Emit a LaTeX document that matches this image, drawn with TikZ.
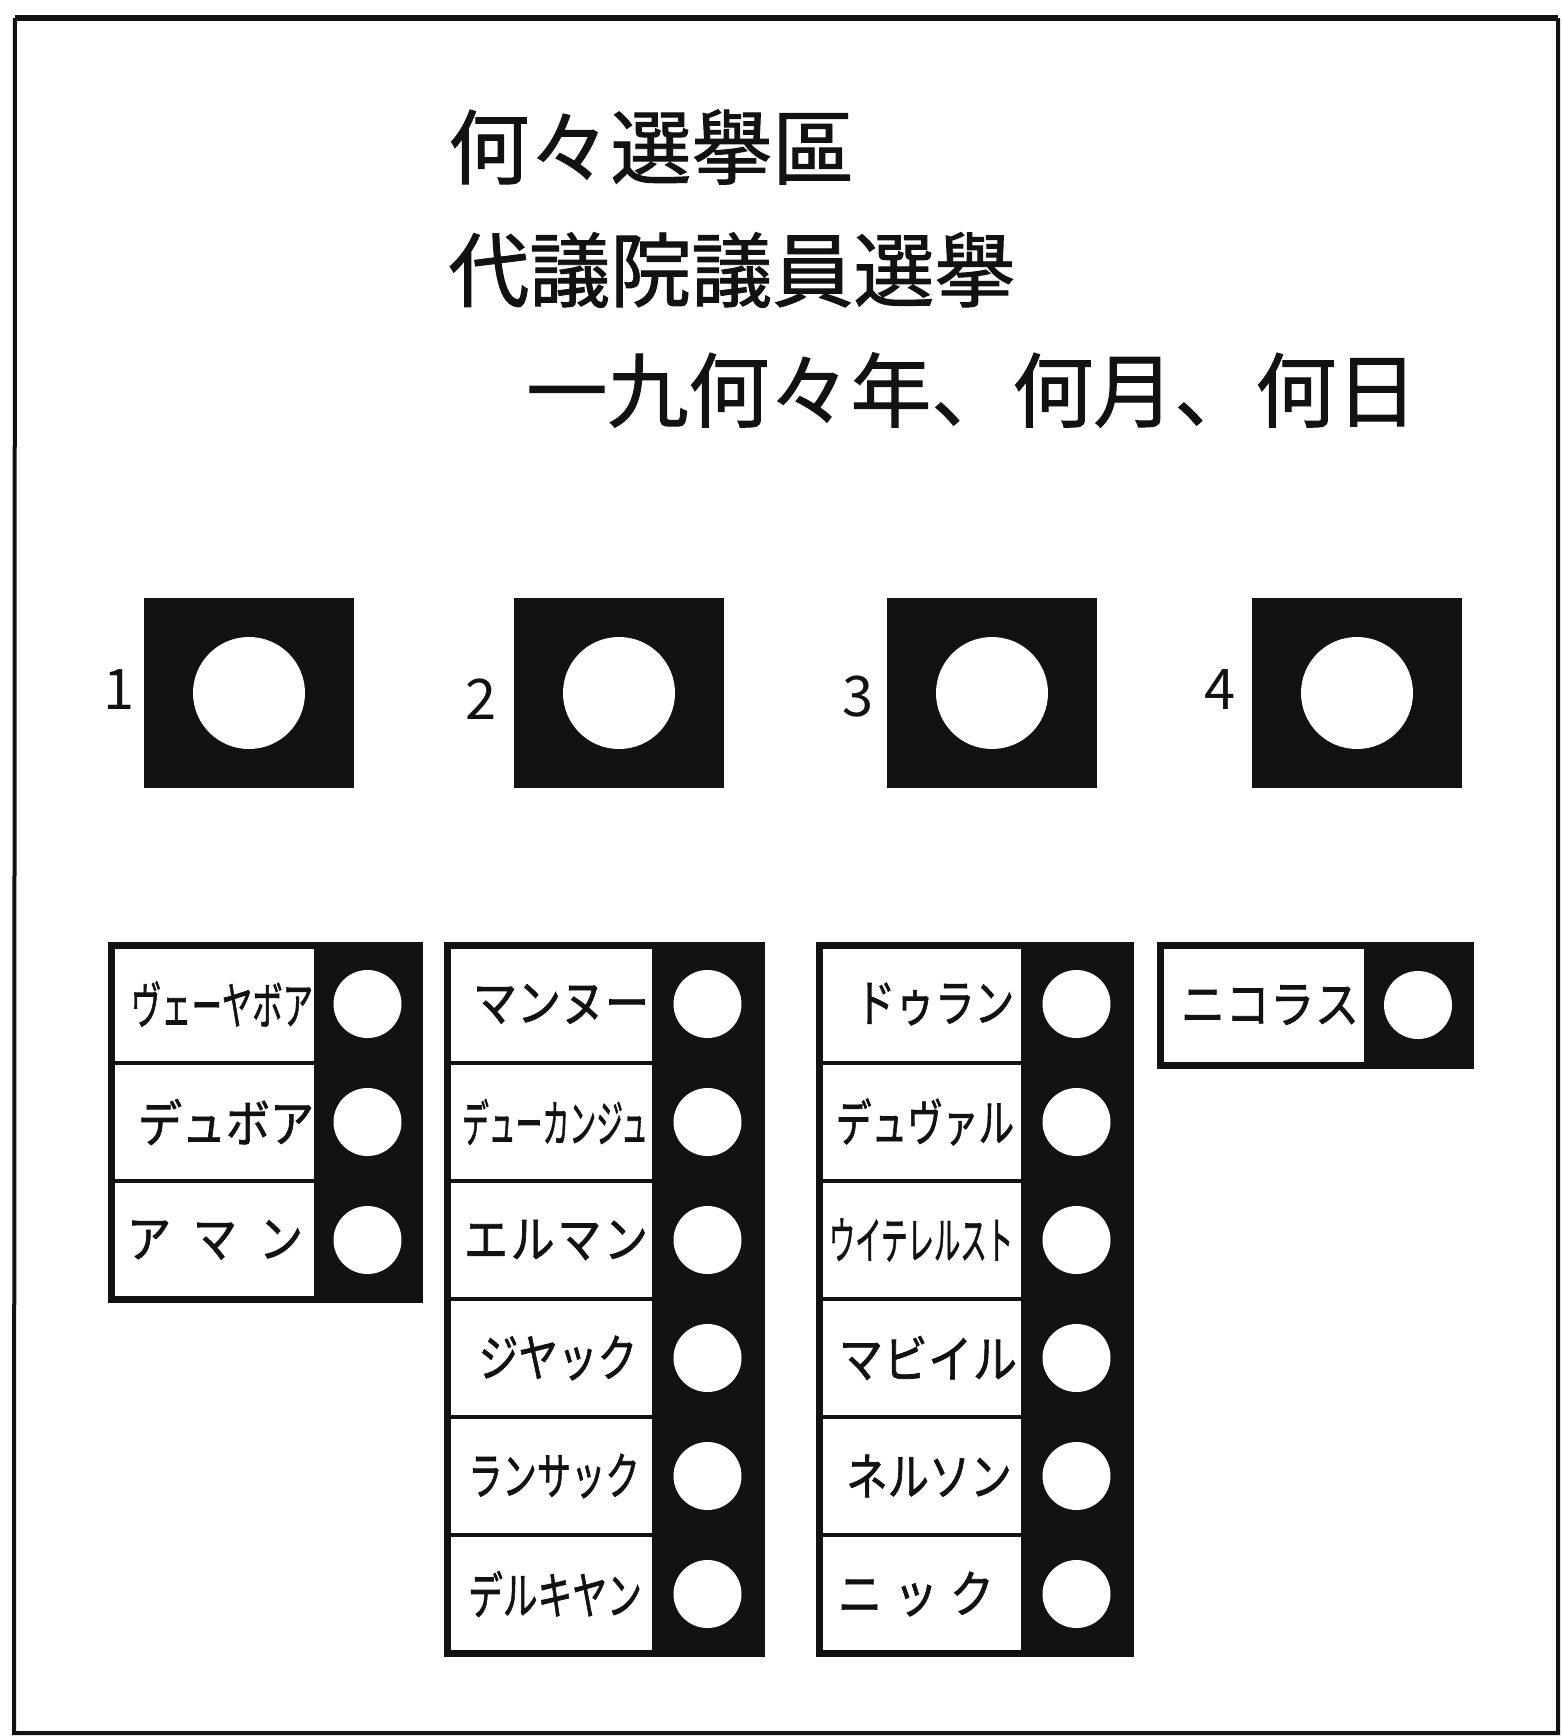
\documentclass[tikz,border=0pt]{standalone}
\usepackage{fontspec}
\usepackage{graphicx}
\newfontfamily\jp[FakeBold=1.2]{Noto Sans CJK JP}
\newfontfamily\jpn[FakeBold=1.5]{Noto Sans CJK JP}
\newfontfamily\jpd{Noto Sans CJK JP}
\definecolor{inkc}{gray}{0.07}
\newcommand\candrow[7]{%
  \pgfmathsetmacro\ycen{945+118*(#5-0.5)}%
  \node[cell, minimum width={(#3-#2)*0.5pt}] (#1) at ({(#2+#3)/2},\ycen) {};
  \node[nametext] (#1t) at (#6,\ycen) {\scalebox{1}[1.15]{#7}};
}
\newcommand\canddot[4]{%
  \pgfmathsetmacro\ycen{945+118*(#4-0.5)}%
  \node[dot] (#1) at ({(#2+#3)/2},\ycen) {};
}
\begin{document}
\begin{tikzpicture}[x=0.5pt,y=-0.5pt,
  cell/.style={draw=inkc, fill=white, line width=2pt, minimum height=59pt, inner sep=0pt, outer sep=0pt},
  dot/.style={circle, fill=white, minimum size=34pt, inner sep=0pt},
  hole/.style={circle, fill=white, minimum size=56pt, inner sep=0pt},
  sq/.style={fill=inkc, minimum width=105pt, minimum height=95pt, inner sep=0pt},
  nametext/.style={font=\jpn\fontsize{22}{22}\selectfont, inner sep=0pt, text=inkc},
  title/.style={font=\jp\fontsize{40.5}{41}\selectfont, inner sep=0pt, anchor=west, text=inkc},
  num/.style={font=\jpd\fontsize{28}{28}\selectfont, inner sep=0pt, text=inkc},
  border/.style={draw=inkc, line width=3.5pt}]
\useasboundingbox (0,0) rectangle (1562,1736);
\fill[white] (0,0) rectangle (1562,1736);

% outer frame
\draw[inkc, line width=2pt] (15,18) -- (14,1733) -- (1558,1733) -- (1558,18);
\draw[inkc, line width=3pt] (15,18) -- (1558,18);

% title
\node[title] (t1) at (448,147) {何々選擧區};
\node[title] (t2) at (448,270) {代議院議員選擧};
\node[title] (t3) at (526,390) {一九何々年、何月、何日};

% party squares
\foreach \i/\x/\lx/\ly in {1/249/119/690, 2/619/481/699, 3/992/858/697, 4/1357/1220/690} {
  \node[sq] (sq\i) at (\x,693) {};
  \node[hole] (h\i) at (sq\i.center) {};
  \node[num] (n\i) at (\lx,\ly) {\i};
}

% list 1
\fill[inkc] (316,945) rectangle (419,1299);
\candrow{a1}{111}{316}{419}{1}{222}{\scalebox{0.69}[1]{ヴェーヤボア}}
\candrow{a2}{111}{316}{419}{2}{224}{\makebox[86pt][s]{デ\hfill ュ\hfill ボ\hfill ア}}
\candrow{a3}{111}{316}{419}{3}{215}{\makebox[88pt][s]{ア\hfill マ\hfill ン}}
\draw[border] (111,945) rectangle (419,1299);
\foreach \r in {1,2,3} {\canddot{ad\r}{316}{419}{\r}}

% list 2
\fill[inkc] (654,945) rectangle (761,1653);
\candrow{b1}{447}{654}{761}{1}{555}{\makebox[82pt][s]{マ\hfill ン\hfill ヌ\hfill ー}}
\candrow{b2}{447}{654}{761}{2}{555}{\scalebox{0.61}[1]{デューカンジュ}}
\candrow{b3}{447}{654}{761}{3}{556}{\makebox[92pt][s]{エ\hfill ル\hfill マ\hfill ン}}
\candrow{b4}{447}{654}{761}{4}{558}{\scalebox{0.9}[1]{ジヤック}}
\candrow{b5}{447}{654}{761}{5}{554}{\scalebox{0.78}[1]{ランサック}}
\candrow{b6}{447}{654}{761}{6}{555}{\scalebox{0.79}[1]{デルキヤン}}
\draw[border] (447,945) rectangle (761,1653);
\foreach \r in {1,...,6} {\canddot{bd\r}{654}{761}{\r}}

% list 3
\fill[inkc] (1023,945) rectangle (1130,1653);
\candrow{c1}{819}{1023}{1130}{1}{935}{\scalebox{0.9}[1]{ドゥラン}}
\candrow{c2}{819}{1023}{1130}{2}{925}{\scalebox{0.81}[1]{デュヴァル}}
\candrow{c3}{819}{1023}{1130}{3}{921}{\scalebox{0.6}[1]{ウイテレルスト}}
\candrow{c4}{819}{1023}{1130}{4}{928}{\makebox[89pt][s]{マ\hfill ビ\hfill イ\hfill ル}}
\candrow{c5}{819}{1023}{1130}{5}{929}{\scalebox{0.94}[1]{ネルソン}}
\candrow{c6}{819}{1023}{1130}{6}{916}{\makebox[78pt][s]{ニ\hfill ッ\hfill ク}}
\draw[border] (819,945) rectangle (1130,1653);
\foreach \r in {1,...,6} {\canddot{cd\r}{1023}{1130}{\r}}

% list 4
\fill[inkc] (1366,945) rectangle (1470,1065);
\node[cell, minimum width=103pt, minimum height=60pt] (d1) at (1263,1005) {};
\node[nametext] (d1t) at (1270,1005) {\scalebox{1}[1.15]{\makebox[89pt][s]{ニ\hfill コ\hfill ラ\hfill ス}}};
\draw[border] (1160,945) rectangle (1470,1065);
\node[dot] (dd1) at (1418,1005) {};
\end{tikzpicture}
\end{document}
